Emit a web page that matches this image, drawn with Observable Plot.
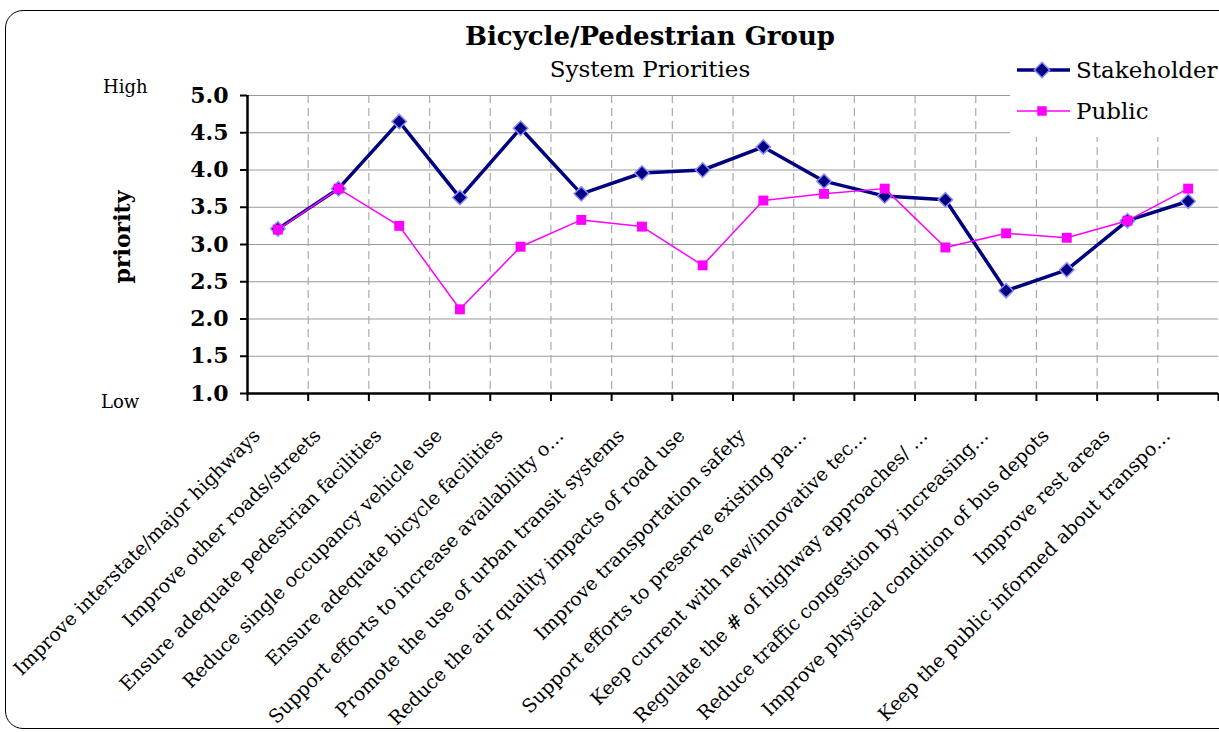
<!DOCTYPE html>
<html><head><meta charset="utf-8">
<script src="https://cdn.jsdelivr.net/npm/d3@7"></script>
<script src="https://cdn.jsdelivr.net/npm/@observablehq/plot@0.6"></script>
<style>
body{margin:0;background:#fff;overflow:hidden;}
#wrap{position:relative;width:1219px;height:732px;font-family:"DejaVu Serif",serif;color:#000;overflow:hidden;}
#chart{position:absolute;left:0;top:0;}
#frame{position:absolute;left:5px;top:10px;width:1260px;height:719px;border:1px solid #000;border-radius:18px;box-sizing:border-box;}
.t{position:absolute;white-space:nowrap;line-height:1;}
#title{left:0;width:1300px;text-align:center;top:23px;font-size:26px;font-weight:bold;}
#subtitle{left:0;width:1300px;text-align:center;top:58px;font-size:23px;}
#ylab{left:122px;top:237px;font-size:22px;font-weight:bold;transform:translate(-50%,-50%) rotate(-90deg);}
#high{left:103px;top:78px;font-size:18px;}
#low{left:101px;top:393px;font-size:18px;}
#legend{position:absolute;left:1010px;top:57px;width:215px;height:80px;background:#fff;}
</style></head>
<body>
<div id="wrap">
  <div id="frame"></div>
  <div id="chart"></div>
  <div id="legend"></div>
  <div class="t" id="title">Bicycle/Pedestrian Group</div>
  <div class="t" id="subtitle">System Priorities</div>
  <div class="t" id="ylab">priority</div>
  <div class="t" id="high">High</div>
  <div class="t" id="low">Low</div>
</div>
<script>
const categories = [
  "Improve interstate/major highways",
  "Improve other roads/streets",
  "Ensure adequate pedestrian facilities",
  "Reduce single occupancy vehicle use",
  "Ensure adequate bicycle facilities",
  "Support efforts to increase availability o…",
  "Promote the use of urban transit systems",
  "Reduce the air quality impacts of road use",
  "Improve transportation safety",
  "Support efforts to preserve existing pa…",
  "Keep current with new/innovative tec…",
  "Regulate the # of highway approaches/ …",
  "Reduce traffic congestion by increasing…",
  "Improve physical condition of bus depots",
  "Improve rest areas",
  "Keep the public informed about transpo…"
];
const stakeholder = [3.21, 3.75, 4.65, 3.63, 4.56, 3.68, 3.96, 4.00, 4.31, 3.85, 3.65, 3.60, 2.38, 2.66, 3.32, 3.58];
const publicVals  = [3.20, 3.75, 3.25, 2.13, 2.97, 3.33, 3.24, 2.72, 3.59, 3.68, 3.75, 2.96, 3.15, 3.09, 3.32, 3.75];
const yTicks = [1.0, 1.5, 2.0, 2.5, 3.0, 3.5, 4.0, 4.5, 5.0];
const seriesNames = ["Stakeholder", "Public"];

const n = categories.length;
const idx = d3.range(1, n + 1);
const bounds = d3.range(0.5, n + 1, 1);          // category boundaries
const innerBounds = bounds.slice(1, -1);

const navy = "#000080", magenta = "#FF00FF", diamondEdge = "#8c8cff";

const plot = Plot.plot({
  width: 1219,
  height: 732,
  marginLeft: 247,
  marginRight: 1,
  marginTop: 95,
  marginBottom: 339,
  style: {fontFamily: "'DejaVu Serif', serif", background: "transparent", color: "#000"},
  x: {type: "linear", domain: [0.5, n + 0.5]},
  y: {domain: [1, 5]},
  marks: [
    Plot.ruleY(yTicks.slice(1), {stroke: "#999", strokeWidth: 1}),
    Plot.ruleX(innerBounds, {stroke: "#aaa", strokeWidth: 1.2, strokeDasharray: "8,5"}),
    Plot.axisY(yTicks, {tickFormat: d3.format(".1f"), tickSize: 7, tickPadding: 12, fontSize: 22, fontWeight: "bold", strokeWidth: 2, label: null}),
    Plot.axisX(bounds, {tickFormat: () => "", tickSize: 8, strokeWidth: 2, label: null}),
    Plot.axisX(idx, {tickFormat: i => categories[i - 1], tickRotate: -45, tickSize: 0, tickPadding: 14, fontSize: 19, label: null, dx: -21, dy: 25}),
    Plot.ruleY([1], {stroke: "#000", strokeWidth: 2.5}),
    Plot.ruleX([0.5], {stroke: "#000", strokeWidth: 2.5}),
    Plot.line(idx, {x: d => d, y: d => stakeholder[d - 1], stroke: navy, strokeWidth: 3.5}),
    Plot.dot(idx, {x: d => d, y: d => stakeholder[d - 1], symbol: "diamond2", r: 6.5, fill: navy, stroke: diamondEdge, strokeWidth: 1.5}),
    Plot.line(idx, {x: d => d, y: d => publicVals[d - 1], stroke: magenta, strokeWidth: 1.5}),
    Plot.dot(idx, {x: d => d, y: d => publicVals[d - 1], symbol: "square", r: 5.6, fill: magenta})
  ]
});
document.getElementById("chart").appendChild(plot);

// legend
const lg = d3.select("#legend").append("svg").attr("width", 215).attr("height", 80);
const rows = [
  {name: seriesNames[0], color: navy, w: 3.5, y: 13, sym: d3.symbolDiamond2, size: 150, stroke: diamondEdge},
  {name: seriesNames[1], color: magenta, w: 1.5, y: 54, sym: d3.symbolSquare, size: 90, stroke: "none"}
];
rows.forEach(r => {
  lg.append("line").attr("x1", 7).attr("x2", 60).attr("y1", r.y).attr("y2", r.y).attr("stroke", r.color).attr("stroke-width", r.w);
  lg.append("path").attr("d", d3.symbol(r.sym, r.size)()).attr("transform", `translate(32,${r.y})`)
    .attr("fill", r.color).attr("stroke", r.stroke).attr("stroke-width", 1.5);
  lg.append("text").attr("x", 66).attr("y", r.y).attr("dy", "0.35em").attr("font-size", 23)
    .attr("font-family", "'DejaVu Serif', serif").text(r.name);
});
</script>
</body></html>
